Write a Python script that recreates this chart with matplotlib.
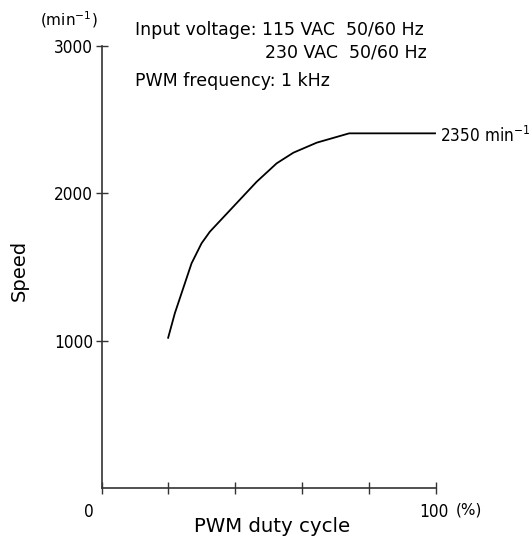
import matplotlib
matplotlib.use("Agg")
import matplotlib.pyplot as plt

# ── Data ──────────────────────────────────────────────────────────────
duty_pct = [19.9, 21.9, 24.4, 26.9, 29.9, 32.4, 39.4, 46.4, 52.4, 57.4, 64.4, 74.1, 99.8]
speed    = [1020, 1186, 1355, 1524, 1660, 1739, 1908, 2077, 2202, 2274, 2342, 2405, 2405]

x_ticks   = [0, 20, 40, 60, 80, 100]
y_ticks   = [1000, 2000, 3000]
y_labels  = ["1000", "2000", "3000"]

plt.rcParams["mathtext.default"] = "regular"
txt_font  = ["DejaVu Sans"]

fig = plt.figure(figsize=(5.31, 5.40), dpi=100)
ax  = fig.add_axes([0.1915, 0.0957, 0.629, 0.820])

ax.plot(duty_pct, speed, color="black", linewidth=1.3, clip_on=False)
ax.set_xlim(0, 100)
ax.set_ylim(0, 3000)

for s in ["top", "right"]:
    ax.spines[s].set_visible(False)
for s in ["left", "bottom"]:
    ax.spines[s].set_color("#333333")
    ax.spines[s].set_linewidth(1.2)

ax.set_xticks(x_ticks)
ax.set_xticklabels([])
ax.set_yticks(y_ticks)
ax.set_yticklabels(y_labels, fontsize=12.3, fontstretch="condensed")
ax.tick_params(axis="both", direction="inout", length=8, width=1.0, color="#333333")
ax.tick_params(axis="y", pad=2)

# ── Axis texts ────────────────────────────────────────────────────────
ax.text(-3.9, -163, "0", ha="center", va="center", fontsize=12.3,
        fontstretch="condensed", clip_on=False)
ax.text(99.5, -160, "100", ha="center", va="center", fontsize=12.3,
        fontstretch="condensed", clip_on=False)
ax.text(110, -150, "(%)", ha="center", va="center", fontsize=11,
        family=txt_font, clip_on=False)
fig.text(0.512, 0.025, "PWM duty cycle", ha="center", va="center",
         fontsize=14.2, family=txt_font)
fig.text(0.036, 0.50, "Speed", ha="center", va="center", rotation=90,
         fontsize=14, family=txt_font)
fig.text(0.129, 0.963, "(min$^{-1}$)", ha="center", va="center",
         fontsize=11, family=txt_font)

# ── Annotations ───────────────────────────────────────────────────────
ax.text(101.3, speed[-1] - 20, "2350 min$^{-1}$", ha="left", va="center",
        fontsize=12.3, fontstretch="condensed", clip_on=False)
ax.text(10, 3105, "Input voltage: 115 VAC  50/60 Hz", ha="left", va="center",
        fontsize=12.5, family=txt_font, clip_on=False)
ax.text(97.4, 2956, "230 VAC  50/60 Hz", ha="right", va="center",
        fontsize=12.5, family=txt_font)
ax.text(10, 2760, "PWM frequency: 1 kHz", ha="left", va="center",
        fontsize=12.5, family=txt_font)

plt.savefig("out.png", dpi=100)
plt.close()
